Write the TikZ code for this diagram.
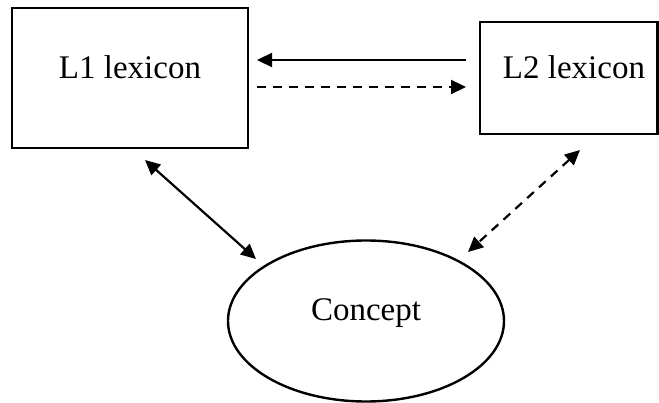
\documentclass[tikz,border=0pt]{standalone}
\usepackage{fontspec}
\setmainfont{Liberation Serif}
\usetikzlibrary{arrows.meta}
\begin{document}
\begin{tikzpicture}[x=1pt,y=-1pt,
  box/.style={draw,line width=2.4pt,inner sep=0pt},
  conn/.style={line width=2.2pt,{Triangle[length=15pt,width=14pt]}-{Triangle[length=15pt,width=14pt]}},
  oneway/.style={line width=2.2pt,-{Triangle[length=15pt,width=14pt]}},
  dashline/.style={dash pattern=on 9pt off 7pt},
  lbl/.style={font=\fontsize{33}{38}\selectfont}]
\useasboundingbox (0,0) rectangle (659,403);
% lexicon boxes
\draw[box] (12,8) rectangle (248,148);
\node[lbl] (l1) at (130,67) {L1 lexicon};
\draw[box] (480,22) rectangle (657.5,134);
\node[lbl] (l2) at (574,67) {L2 lexicon};
% concept ellipse
\draw[line width=2.4pt] (366,321) ellipse [x radius=138, y radius=80.5];
\node[lbl] (c) at (366,313) {Concept};
% links between the lexicons
\coordinate (a1) at (466,60);
\coordinate (a2) at (257,60);
\coordinate (b1) at (257,87);
\coordinate (b2) at (466,87);
\draw[oneway] (a1) -- (a2);
\draw[oneway,dashline] (b1) -- (b2);
% links to the concept
\coordinate (p1) at (145,160);
\coordinate (p2) at (256,259);
\coordinate (q1) at (580,150);
\coordinate (q2) at (468,252);
\draw[conn] (p1) -- (p2);
\draw[conn,dashline] (q1) -- (q2);
\end{tikzpicture}
\end{document}
